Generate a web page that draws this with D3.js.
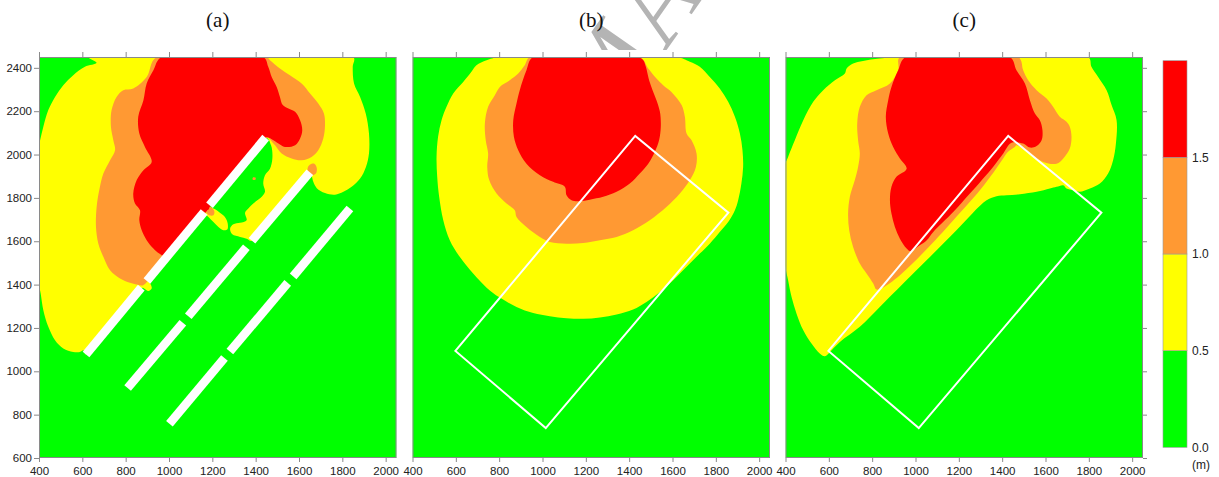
<!DOCTYPE html>
<html>
<head>
<meta charset="utf-8">
<script src="https://cdn.jsdelivr.net/npm/d3@7"></script>
<style>
  body { margin: 0; background: #fff; }
  svg { display: block; }
</style>
</head>
<body>
<svg id="fig" width="1219" height="477"></svg>
<script>
// ---- axis ticks and labels ----
const xTicks = [400, 600, 800, 1000, 1200, 1400, 1600, 1800, 2000];
const yTicks = [600, 800, 1000, 1200, 1400, 1600, 1800, 2000, 2200, 2400];
const panelLabels = ["(a)", "(b)", "(c)"];
const legendLevels = [0, 0.5, 1.0, 1.5, 2.0];
const legendLabels = ["0.0", "0.5", "1.0", "1.5"];
const legendUnit = "(m)";
const watermarkText = "ACCEPTED MANUSCRIPT";

// ---- (a) detached breakwaters: inundation depth zones, [x, y] in metres ----
const aDepth05 = [[628,2450],[1851,2450],[1848,2405],[1854,2328],[1882,2266],[1908,2189],[1923,2097],[1923,2005],[1909,1943],[1882,1889],[1843,1851],[1805,1828],[1766,1815],[1720,1822],[1682,1845],[1666,1874],[1658,1905],[1650,1918],[1383,1602],[1358,1612],[1328,1620],[1292,1632],[1282,1658],[1297,1678],[1328,1685],[1358,1697],[1351,1732],[1366,1751],[1389,1774],[1428,1805],[1443,1828],[1435,1866],[1443,1905],[1466,1935],[1477,1982],[1471,2043],[1446,2078],[617,1078],[605,1097],[589,1089],[558,1089],[512,1105],[474,1143],[443,1205],[420,1282],[408,1358],[395,1435],[395,2020],[405,2066],[420,2128],[443,2205],[474,2266],[512,2320],[558,2366],[612,2405],[666,2423]];
const aDepth10 = [[943,2450],[1451,2450],[1466,2435],[1512,2397],[1558,2366],[1612,2328],[1651,2282],[1689,2235],[1715,2189],[1720,2135],[1712,2074],[1689,2020],[1658,1989],[1612,1974],[1566,1982],[1520,2005],[1482,2051],[1446,2078],[881,1397],[866,1397],[820,1408],[774,1428],[728,1466],[697,1528],[674,1589],[663,1666],[666,1758],[678,1835],[697,1912],[728,1974],[751,2020],[743,2066],[732,2128],[735,2205],[758,2266],[789,2297],[835,2305],[897,2358]];
const aDepth15 = [[966,2450],[1435,2450],[1458,2405],[1474,2358],[1497,2312],[1512,2266],[1525,2228],[1551,2212],[1582,2197],[1605,2158],[1615,2112],[1605,2074],[1582,2043],[1535,2035],[1505,2051],[1474,2071],[1446,2078],[992,1530],[955,1543],[928,1566],[897,1605],[874,1651],[863,1697],[866,1743],[843,1774],[835,1820],[851,1882],[882,1928],[920,1966],[889,2035],[863,2097],[858,2174],[882,2251],[897,2328],[928,2389]];
const aGapDepth05 = [
  [[1177,1758],[1205,1751],[1235,1732],[1258,1712],[1271,1682],[1269,1654],[1251,1651],[1228,1666],[1205,1689],[1182,1712],[1166,1732]],
  [[878,1432],[897,1423],[915,1402],[920,1382],[905,1371],[885,1382],[866,1397],[858,1417]]
];
const aGapDepth10 = [
  [[1166,1771],[1189,1762],[1209,1740],[1205,1720],[1186,1720],[1168,1740]],
  [[1651,1954],[1671,1958],[1682,1938],[1678,1912],[1663,1905],[1643,1920],[1640,1938]],
  [[1388,1895],[1400,1893],[1398,1883],[1386,1885]]
];
const aGapDepth15 = [
  [[1166,1771],[1182,1764],[1184,1748],[1170,1745]]
];
// breakwater centrelines [x1, y1, x2, y2]
const breakwaters = [
  [617,1078,872,1386],[898,1417,1162,1735],[1187,1766,1446,2078],
  [809,923,1064,1224],[1089,1254,1357,1572],[1383,1602,1650,1918],
  [1002,758,1256,1061],[1281,1091,1548,1408],[1573,1438,1835,1751]
];
const BREAKWATER_WIDTH = 40; // m

// ---- (b) no breakwaters ----
const bDepth05 = [[803,2450],[1618,2450],[1680,2428],[1726,2405],[1772,2358],[1818,2305],[1857,2243],[1888,2174],[1911,2097],[1923,2020],[1926,1943],[1918,1866],[1903,1789],[1888,1743],[1857,1689],[1818,1643],[1772,1589],[1726,1543],[1665,1482],[1603,1420],[1542,1366],[1480,1320],[1418,1285],[1342,1262],[1265,1248],[1188,1242],[1111,1245],[1034,1254],[957,1269],[880,1297],[803,1340],[742,1386],[680,1451],[618,1528],[572,1605],[542,1697],[523,1805],[514,1897],[511,1989],[518,2082],[534,2158],[557,2220],[588,2282],[634,2335],[672,2382],[695,2412],[742,2435]];
const bDepth10 = [[942,2450],[1449,2450],[1488,2397],[1526,2351],[1557,2320],[1595,2289],[1642,2228],[1657,2174],[1665,2097],[1688,2066],[1711,2005],[1708,1943],[1680,1882],[1634,1820],[1572,1758],[1495,1697],[1418,1651],[1342,1620],[1265,1605],[1188,1592],[1111,1589],[1034,1597],[988,1620],[926,1666],[880,1712],[872,1743],[834,1774],[788,1820],[754,1882],[745,1943],[749,2005],[738,2066],[734,2143],[749,2220],[780,2274],[803,2312],[849,2343],[888,2374],[918,2412]];
const bDepth15 = [[957,2450],[1442,2450],[1465,2435],[1477,2405],[1492,2343],[1508,2297],[1526,2251],[1542,2197],[1546,2128],[1538,2066],[1518,2012],[1488,1958],[1449,1912],[1403,1866],[1342,1828],[1280,1805],[1218,1792],[1172,1785],[1134,1789],[1111,1812],[1103,1851],[1049,1874],[988,1905],[926,1958],[888,2020],[868,2082],[865,2158],[880,2235],[895,2297],[926,2389]];

// ---- (c) submerged forest zone ----
const cDepth05 = [[943,2450],[1797,2450],[1812,2405],[1843,2358],[1882,2297],[1905,2228],[1928,2158],[1925,2051],[1912,1974],[1889,1912],[1851,1866],[1805,1843],[1758,1828],[1728,1835],[1697,1843],[1682,1858],[1651,1851],[1620,1843],[1559,1828],[1482,1817],[1420,1812],[1374,1808],[1328,1789],[1189,1651],[1051,1512],[943,1405],[835,1297],[743,1205],[651,1135],[605,1089],[582,1069],[558,1082],[520,1128],[482,1189],[451,1266],[428,1343],[412,1420],[395,1512],[395,1943],[412,1989],[443,2066],[482,2158],[528,2243],[574,2297],[628,2343],[674,2374],[682,2397],[712,2420],[758,2432],[835,2443]];
const cDepth10 = [[928,2450],[1474,2450],[1497,2389],[1520,2343],[1559,2297],[1605,2258],[1635,2220],[1666,2174],[1697,2151],[1712,2128],[1720,2081],[1712,2028],[1682,1982],[1651,1958],[1589,1966],[1528,2005],[1466,2043],[1458,2035],[1426,2012],[1399,1974],[1345,1897],[1285,1820],[1216,1743],[1091,1605],[937,1451],[855,1389],[820,1377],[805,1405],[774,1451],[743,1497],[712,1574],[694,1651],[689,1728],[697,1805],[720,1882],[735,1943],[743,2005],[735,2066],[731,2143],[743,2220],[774,2274],[820,2297],[882,2328],[920,2389]];
const cDepth15 = [[955,2450],[1435,2450],[1466,2389],[1505,2328],[1528,2251],[1551,2189],[1574,2158],[1586,2112],[1582,2066],[1559,2039],[1528,2032],[1497,2051],[1443,2054],[1405,2005],[1358,1943],[1251,1820],[1174,1735],[1082,1643],[1052,1605],[1020,1582],[974,1555],[959,1566],[928,1612],[905,1666],[889,1728],[882,1789],[889,1851],[912,1897],[959,1935],[928,1982],[897,2035],[874,2097],[863,2174],[874,2251],[889,2312],[920,2389]];

// outline of the protected zone, drawn in (b) and (c)
const zoneOutline = [[598,1094],[1428,2086],[1858,1732],[1015,738]];

// ---- layout and styles ----
const svg = d3.select("#fig");
const PANEL_W = 357.5, PANEL_H = 401, PANEL_TOP = 57;
const panelLeft = [39, 412.5, 785.5];
const xDomain = [400, 2050], yDomain = [600, 2450];
const levelFill = ["#00ff00", "#ffff00", "#ff9933", "#ff0000"];
const frameColor = "#8a8a8a";
const labelFont = '"Liberation Sans", Arial, sans-serif';
const titleFont = '"Liberation Serif", "Times New Roman", serif';

const defs = svg.append("defs");

// faint watermark in the title strip
defs.append("clipPath").attr("id", "wm-clip")
  .append("rect").attr("x", 0).attr("y", 0).attr("width", 1219).attr("height", 50);
const wm = svg.append("g").attr("clip-path", "url(#wm-clip)");
const wmText = wm.append("text")
  .text(watermarkText)
  .attr("font-family", titleFont)
  .attr("font-size", 110)
  .attr("fill", "#b4b4b4");
const mOffset = wmText.node().getStartPositionOfChar(9).x;
wmText.attr("transform", `translate(608,134) rotate(-55) translate(${-mOffset},0)`);

const panels = [
  { layers: [[[aDepth05], 1], [aGapDepth05, 1], [[aDepth10], 2], [aGapDepth10, 2], [[aDepth15], 3], [aGapDepth15, 3]], breakwaters: true },
  { layers: [[[bDepth05], 1], [[bDepth10], 2], [[bDepth15], 3]], outline: true },
  { layers: [[[cDepth05], 1], [[cDepth10], 2], [[cDepth15], 3]], outline: true }
];

function styleAxis(sel) {
  sel.select(".domain").remove();
  sel.selectAll("line").attr("stroke", frameColor).attr("stroke-width", 1);
  sel.selectAll("text").attr("fill", "#222").style("font-family", labelFont).style("font-size", "11.5px");
}

panels.forEach((p, i) => {
  const x0 = panelLeft[i];
  const x = d3.scaleLinear().domain(xDomain).range([x0, x0 + PANEL_W]);
  const y = d3.scaleLinear().domain(yDomain).range([PANEL_TOP + PANEL_H, PANEL_TOP]);
  const pxPerMetre = x(1) - x(0);

  defs.append("clipPath").attr("id", "plot-clip-" + i)
    .append("rect").attr("x", x0).attr("y", PANEL_TOP).attr("width", PANEL_W).attr("height", PANEL_H);

  const g = svg.append("g");
  const body = g.append("g").attr("clip-path", `url(#plot-clip-${i})`);

  // dry / shallow background
  body.append("rect")
    .attr("x", x(xDomain[0])).attr("y", y(yDomain[1]))
    .attr("width", x(xDomain[1]) - x(xDomain[0]))
    .attr("height", y(yDomain[0]) - y(yDomain[1]))
    .attr("fill", levelFill[0]);

  const shape = d3.line()
    .x(d => x(d[0])).y(d => y(d[1]))
    .curve(d3.curveCatmullRomClosed.alpha(0.5));

  p.layers.forEach(([polys, level]) => {
    polys.forEach(poly => {
      body.append("path").attr("d", shape(poly)).attr("fill", levelFill[level]);
    });
  });

  if (p.breakwaters) {
    body.selectAll("line.bw").data(breakwaters).join("line")
      .attr("class", "bw")
      .attr("x1", d => x(d[0])).attr("y1", d => y(d[1]))
      .attr("x2", d => x(d[2])).attr("y2", d => y(d[3]))
      .attr("stroke", "#fff")
      .attr("stroke-width", BREAKWATER_WIDTH * pxPerMetre)
      .attr("stroke-linecap", "butt");
  }
  if (p.outline) {
    body.append("path")
      .attr("d", d3.line().x(d => x(d[0])).y(d => y(d[1]))(zoneOutline) + "Z")
      .attr("fill", "none").attr("stroke", "#fff").attr("stroke-width", 2)
      .attr("stroke-linejoin", "miter");
  }

  // frame
  g.append("rect")
    .attr("x", x0 + 0.5).attr("y", PANEL_TOP + 0.5)
    .attr("width", PANEL_W - 1).attr("height", PANEL_H - 1)
    .attr("fill", "none").attr("stroke", frameColor).attr("stroke-width", 1);

  // axes
  g.append("g").attr("transform", `translate(0,${PANEL_TOP + PANEL_H})`)
    .call(d3.axisBottom(x).tickValues(xTicks).tickSize(4).tickPadding(5).tickFormat(d3.format("d")))
    .call(styleAxis);
  g.append("g").attr("transform", `translate(0,${PANEL_TOP})`)
    .call(d3.axisTop(x).tickValues(xTicks).tickSize(5).tickFormat(""))
    .call(styleAxis);
  if (i === 0) {
    g.append("g").attr("transform", `translate(${x0},0)`)
      .call(d3.axisLeft(y).tickValues(yTicks).tickSize(5).tickPadding(2).tickFormat(d3.format("d")))
      .call(styleAxis);
  }
  if (i === 2) {
    g.append("g").attr("transform", `translate(${x0 + PANEL_W},0)`)
      .call(d3.axisRight(y).tickValues(yTicks).tickSize(4).tickFormat(""))
      .call(styleAxis);
  }

  // panel title
  svg.append("text")
    .attr("x", x0 + PANEL_W / 2).attr("y", 27)
    .attr("text-anchor", "middle")
    .style("font-family", titleFont).style("font-size", "21px")
    .attr("fill", "#111")
    .text(panelLabels[i]);
});

// ---- colour bar ----
const cbX = 1163, cbW = 24;
const cb = d3.scaleLinear().domain([legendLevels[0], legendLevels[legendLevels.length - 1]]).range([447.3, 60.7]);
const cbG = svg.append("g");
d3.pairs(legendLevels).forEach(([lo, hi], k) => {
  cbG.append("rect")
    .attr("x", cbX).attr("y", cb(hi))
    .attr("width", cbW).attr("height", cb(lo) - cb(hi))
    .attr("fill", levelFill[k])
    .attr("stroke", "#9a9a9a").attr("stroke-width", 0.6);
});
cbG.selectAll("text.lv").data(legendLabels).join("text")
  .attr("class", "lv")
  .attr("x", cbX + cbW + 5)
  .attr("y", (d, k) => cb(legendLevels[k]))
  .attr("dy", "0.36em")
  .style("font-family", labelFont).style("font-size", "12px")
  .attr("fill", "#222")
  .text(d => d);
cbG.append("text")
  .attr("x", cbX + cbW + 5).attr("y", 465).attr("dy", "0.36em")
  .style("font-family", labelFont).style("font-size", "12px")
  .attr("fill", "#222")
  .text(legendUnit);
</script>
</body>
</html>
